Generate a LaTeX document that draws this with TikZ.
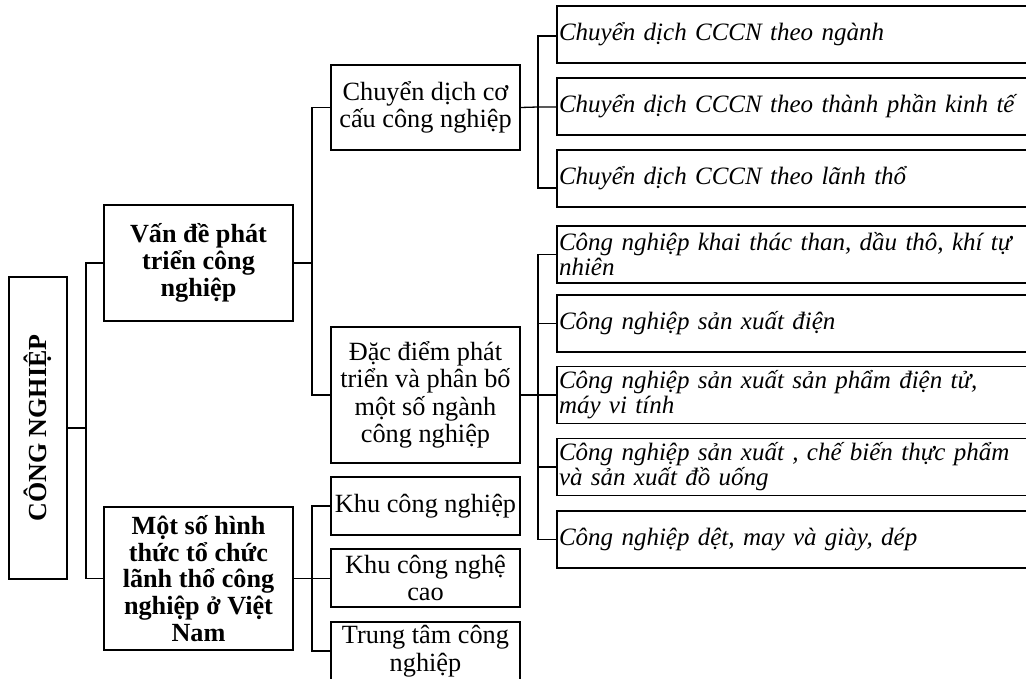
\documentclass[tikz,border=0pt]{standalone}
\usepackage{fontspec}
\usepackage{graphicx}
\setmainfont{Liberation Serif}
\usetikzlibrary{calc}
\begin{document}
\begin{tikzpicture}[x=1pt,y=-1pt,
  line width=1.3pt,
  boxbase/.style={draw, line width=1.3pt, inner sep=0pt, align=center},
  midbox/.style={boxbase, minimum width=189pt, font=\fontsize{26.3}{27.5}\selectfont},
  topbox/.style={boxbase, minimum width=189pt, font=\fontsize{26.2}{26.7}\selectfont\bfseries},
  leafbox/.style={boxbase, align=left, text width=479pt, inner xsep=2pt, minimum height=57pt, font=\fontsize{25}{25}\selectfont\itshape}
]
\useasboundingbox (0,0) rectangle (1026,679);
\clip (0,0) rectangle (1026,679);
\fill[white] (0,0) rectangle (1026,679);

% root
\node[boxbase, minimum width=58pt, minimum height=302pt] (root) at (38,428)
  {\rotatebox{90}{\fontsize{26}{27}\selectfont\bfseries CÔNG NGHIỆP}};

% level 1
\node[topbox, minimum height=116pt] (v1) at (198.5,263) {Vấn đề phát\\triển công\\nghiệp};
\node[topbox, minimum height=143pt] (v2) at (198.5,578.5) {Một số hình\\thức tổ chức\\lãnh thổ công\\nghiệp ở Việt\\Nam};

% level 2
\node[midbox, minimum height=85pt] (c1) at (425.5,107.5) {Chuyển dịch cơ\\cấu công nghiệp};
\node[midbox, minimum height=136pt] (c2) at (425.5,395) {Đặc điểm phát\\triển và phân bố\\một số ngành\\công nghiệp};
\node[midbox, minimum height=58pt] (k1) at (425.5,506) {Khu công nghiệp};
\node[midbox, minimum height=58pt] (k2) at (425.5,578) {Khu công nghệ\\cao};
\node[midbox, minimum height=58pt] (k3) at (425.5,651) {Trung tâm công\\nghiệp};

% leaves
\node[leafbox] (r1) at (798.5,34.5) {Chuyển dịch CCCN theo ngành};
\node[leafbox] (r2) at (798.5,106.5) {Chuyển dịch CCCN theo thành phần kinh tế};
\node[leafbox] (r3) at (798.5,178.5) {Chuyển dịch CCCN theo lãnh thổ};

\node[leafbox] (rA) at (798.5,254.5) {Công nghiệp khai thác than, dầu thô, khí tự\\nhiên};
\node[leafbox] (rB) at (798.5,323.5) {Công nghiệp sản xuất điện};
\node[leafbox] (rC) at (798.5,395) {Công nghiệp sản xuất sản phẩm điện tử,\\máy vi tính};
\node[leafbox] (rD) at (798.5,467) {Công nghiệp sản xuất , chế biến thực phẩm\\và sản xuất đồ uống};
\node[leafbox] (rE) at (798.5,539.5) {Công nghiệp dệt, may và giày, dép};

% connectors: root
\coordinate (b0) at (86,428);
\draw (root.east) -- (b0);
\draw (v1.west) -| (b0) |- (v2.west);

% connectors: v1
\coordinate (b1) at (312,263);
\draw (v1.east) -- (b1);
\draw (c1.west) -| (b1) |- (c2.west);

% connectors: v2
\coordinate (b2) at (312,578.5);
\draw (v2.east) -- (b2);
\draw (k1.west) -| (b2) |- (k3.west);
\draw (b2) -- (b2 -| k2.west);

% connectors: c1
\coordinate (b3) at (538,107);
\draw (c1.east) -- (b3) -- (b3 -| r2.west);
\draw (r1.west |- 0,36) -| (b3) |- (r3.west |- 0,188);

% connectors: c2
\coordinate (b4) at (538,395);
\draw (c2.east) -- (b4) -- (rC.west);
\draw (rA.west) -| (b4) |- (rE.west);
\draw (b4 |- rB.west) -- (rB.west);
\draw (b4 |- rD.west) -- (rD.west);
\end{tikzpicture}
\end{document}
